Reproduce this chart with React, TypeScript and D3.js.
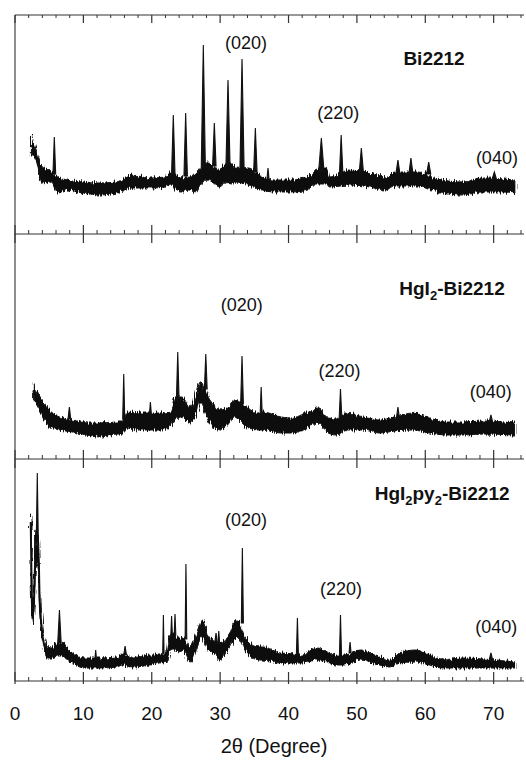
import React from 'react';
import * as d3 from 'd3';

// ---------- axis ----------
const xDomain: [number, number] = [0, 75];
const xTickValues = [0, 10, 20, 30, 40, 50, 60, 70];
const xMinorValues = [2, 4, 6, 8, 12, 14, 16, 18, 22, 24, 26, 28, 32, 34, 36, 38, 42, 44, 46, 48, 52, 54, 56, 58, 62, 64, 66, 68, 72, 74];
const xAxisTitle = '2θ (Degree)';

// ---------- data: [2θ, low, high] envelope of the noisy trace (a.u.) ----------
const bi2212Band: [number, number, number][] = [
  [2.4, 79, 99], [3.1, 74, 84], [4.0, 51, 67], [5.0, 52, 64], [5.5, 50, 62], [6.1, 42, 57],
  [7.6, 44, 54], [10, 41, 52], [12.4, 39, 51], [14.8, 41, 52], [17.2, 46, 59], [19.7, 46, 56],
  [22.1, 47, 57], [22.8, 50, 62], [23.6, 44, 58], [24.1, 42, 56], [25.5, 44, 58], [26.3, 42, 59],
  [27.0, 48, 65], [28.2, 54, 71], [30.0, 47, 64], [30.7, 52, 70], [31.7, 50, 70], [32.2, 52, 67],
  [34.2, 49, 66], [36.2, 44, 57], [37.9, 42, 54], [40.4, 42, 54], [42.8, 44, 57], [44.0, 50, 64],
  [45.5, 50, 66], [46.0, 47, 57], [49.0, 49, 64], [51.9, 47, 61], [54.3, 44, 57], [55.5, 48, 62],
  [57.0, 48, 62], [59.0, 48, 62], [62.3, 41, 54], [65.7, 39, 52], [68.1, 42, 56], [71.5, 42, 55],
  [73.1, 41, 54],
];
// [2θ, top, base, half width]
const bi2212Peaks: [number, number, number, number][] = [
  [5.75, 97, 60, 0.2], [23.15, 119, 60, 0.25], [24.96, 121, 58, 0.25], [27.54, 189, 66, 0.3],
  [29.15, 111, 68, 0.25], [31.15, 154, 68, 0.3], [33.2, 175, 66, 0.3], [35.15, 106, 62, 0.25],
  [37.0, 66, 55, 0.15], [44.8, 96, 62, 0.4], [47.7, 99, 60, 0.25], [50.65, 86, 62, 0.3],
  [56.0, 74, 60, 0.3], [57.9, 76, 60, 0.3], [60.5, 72, 60, 0.3], [70.1, 62, 55, 0.3],
];

const hgi2Band: [number, number, number][] = [
  [2.68, 60, 76], [3.6, 49, 62], [5.0, 32, 49], [6.5, 29, 42], [8.5, 27, 39], [10.5, 24, 36],
  [12.4, 22, 36], [14.9, 25, 37], [15.6, 25, 37], [16.3, 31, 47], [18.4, 29, 46], [21.3, 29, 46],
  [22.7, 32, 47], [23.4, 40, 62], [24.4, 42, 62], [25.6, 36, 52], [26.5, 45, 65], [27.1, 56, 77],
  [28.5, 36, 59], [30.0, 29, 49], [31.2, 35, 52], [32.0, 42, 59], [33.9, 32, 52], [35.3, 29, 46],
  [36.3, 29, 47], [38.9, 26, 42], [40.4, 26, 41], [42.8, 31, 47], [44.3, 36, 51], [45.8, 26, 41],
  [47.0, 24, 40], [48.5, 29, 46], [50.9, 29, 42], [53.3, 26, 39], [55.5, 28, 42], [58.2, 29, 46],
  [60.6, 26, 41], [63.1, 24, 37], [65.5, 24, 37], [68.5, 25, 38], [73.1, 24, 36],
];
const hgi2Peaks: [number, number, number, number][] = [
  [7.95, 52, 40, 0.2], [15.9, 85, 40, 0.15], [19.8, 57, 44, 0.15], [23.8, 107, 58, 0.2],
  [27.9, 105, 70, 0.2], [33.2, 103, 55, 0.2], [36.0, 72, 45, 0.15], [47.6, 70, 40, 0.2],
  [56.0, 52, 42, 0.2], [69.6, 44, 37, 0.25],
];

const hgi2py2Band: [number, number, number][] = [
  [2.3, 150, 168], [2.45, 70, 100], [2.6, 55, 70], [2.8, 75, 95], [3.05, 120, 150], [3.45, 110, 140],
  [3.6, 72, 90], [3.8, 55, 66], [4.1, 37, 46], [4.8, 23, 34], [5.6, 23, 33], [6.1, 25, 38],
  [7.0, 25, 38], [7.5, 23, 34], [8.2, 19, 29], [10.2, 13, 23], [12.4, 13, 23], [14.9, 14, 24],
  [15.7, 16, 27], [17.2, 14, 23], [19.7, 16, 26], [21.1, 18, 26], [22.2, 19, 29], [22.6, 30, 45],
  [23.2, 32, 48], [23.9, 29, 43], [24.6, 31, 43], [25.6, 19, 34], [26.6, 33, 48], [27.4, 44, 61],
  [28.3, 31, 44], [29.0, 28, 42], [30.0, 21, 38], [31.4, 34, 48], [32.4, 44, 61], [33.9, 28, 41],
  [35.8, 21, 34], [36.3, 21, 34], [38.8, 18, 28], [40.9, 18, 27], [41.9, 18, 26], [44.1, 21, 33],
  [46.0, 18, 28], [47.0, 16, 26], [48.2, 16, 26], [50.5, 21, 31], [53.3, 16, 24], [54.8, 14, 21],
  [56.1, 18, 28], [58.6, 19, 31], [60.6, 16, 26], [62.5, 13, 21], [65.5, 13, 23], [68.5, 13, 22],
  [73.1, 13, 19],
];
const hgi2py2Peaks: [number, number, number, number][] = [
  [3.26, 208, 140, 0.15], [6.5, 71, 38, 0.25], [11.8, 31, 23, 0.1], [16.1, 35, 26, 0.2],
  [21.7, 66, 27, 0.1], [22.9, 65, 45, 0.12], [23.4, 67, 46, 0.12], [25.0, 117, 42, 0.12],
  [29.4, 48, 40, 0.15], [29.8, 50, 38, 0.12], [33.25, 133, 58, 0.15], [41.3, 63, 26, 0.15],
  [47.6, 66, 26, 0.15], [49.0, 39, 28, 0.15], [69.6, 28, 21, 0.25],
];

// panel intensity ranges (a.u.)
const panelMax = [219, 225, 222];

// annotations: [text, 2θ position of label start, intensity of baseline]
const hklLabels: [string, number, number][][] = [
  [['(020)', 30.7, 185], ['(220)', 44.2, 115], ['(040)', 67.4, 70]],
  [['(020)', 30.1, 148], ['(220)', 44.4, 82], ['(040)', 66.5, 61]],
  [['(020)', 30.7, 155], ['(220)', 44.6, 86], ['(040)', 67.3, 48]],
];

const sampleNames: { parts: [string, boolean][] }[] = [
  { parts: [['Bi2212', false]] },
  { parts: [['HgI', false], ['2', true], ['-Bi2212', false]] },
  { parts: [['HgI', false], ['2', true], ['py', false], ['2', true], ['-Bi2212', false]] },
];
const sampleNamePos: [number, number][] = [[56.8, 169], [56.2, 164], [52.6, 181]];

// ---------- layout ----------
const W = 526;
const H = 763;
const left = 15;
const panelEdges = [15, 234, 459, 681];

export default function App() {
  const x = d3.scaleLinear().domain(xDomain).range([left, left + 6.838 * 75]);
  const bands = [bi2212Band, hgi2Band, hgi2py2Band];
  const peaks = [bi2212Peaks, hgi2Peaks, hgi2py2Peaks];
  const font = 'Liberation Sans, Arial, Helvetica, sans-serif';
  const lineRight = 524;

  return (
    <svg width={W} height={H} style={{ position: 'absolute', left: 0, top: 0, background: '#fff' }}>
      <defs>
        <filter id="grain" x="-2%" y="-20%" width="104%" height="140%">
          <feTurbulence type="fractalNoise" baseFrequency="0.9 0.06" numOctaves={2} seed={3} result="n" />
          <feDisplacementMap in="SourceGraphic" in2="n" scale={7} xChannelSelector="A" yChannelSelector="G" />
        </filter>
      </defs>
      <rect x={0} y={0} width={W} height={H} fill="#fff" />
      {bands.map((band, i) => {
        const y = d3.scaleLinear().domain([0, panelMax[i]]).range([panelEdges[i + 1], panelEdges[i]]);
        const area = d3
          .area<[number, number, number]>()
          .x((d) => x(d[0]))
          .y0((d) => y(d[1]))
          .y1((d) => y(d[2]))
          .curve(d3.curveMonotoneX);
        const mid = d3
          .line<[number, number, number]>()
          .x((d) => x(d[0]))
          .y((d) => y((d[1] + d[2]) / 2))
          .curve(d3.curveMonotoneX);
        return (
          <g key={'p' + i}>
            <path d={mid(band) || ''} fill="none" stroke="#111" strokeWidth={2} />
            <g filter="url(#grain)">
              <path d={area(band) || ''} fill="#111" stroke="#111" strokeWidth={1} />
            </g>
            {peaks[i].map((p, j) => {
              const d = `M${x(p[0] - p[3])},${y(p[2])} L${x(p[0])},${y(p[1])} L${x(p[0] + p[3])},${y(p[2])} Z`;
              return <path key={j} d={d} fill="#111" stroke="#111" strokeWidth={1.1} strokeLinejoin="miter" />;
            })}
            {hklLabels[i].map((l, j) => (
              <text key={'l' + j} x={x(l[1])} y={y(l[2])} fontFamily={font} fontSize={18} fill="#111">
                {l[0]}
              </text>
            ))}
            <text x={x(sampleNamePos[i][0])} y={y(sampleNamePos[i][1])} fontFamily={font} fontSize={19} fontWeight="bold" fill="#111">
              {sampleNames[i].parts.map((pt, k) =>
                pt[1] ? (
                  <tspan key={k} fontSize={13} dy={5}>{pt[0]}</tspan>
                ) : (
                  <tspan key={k} dy={k > 0 && sampleNames[i].parts[k - 1][1] ? -5 : 0}>{pt[0]}</tspan>
                )
              )}
            </text>
          </g>
        );
      })}

      {/* frame lines */}
      <line x1={left} x2={left} y1={panelEdges[0]} y2={panelEdges[3]} stroke="#444" strokeWidth={1.2} />
      {panelEdges.map((py, i) => (
        <g key={'e' + i}>
          <line x1={left} x2={lineRight} y1={py} y2={py} stroke="#333" strokeWidth={1.2} />
          {xMinorValues.map((v) => {
            const up = i === 0 ? 0 : 4;
            const down = i === 0 ? 3 : 0;
            return <line key={'m' + v} x1={x(v)} x2={x(v)} y1={py - up} y2={py + down} stroke="#333" strokeWidth={1} />;
          })}
          {xTickValues.map((v) => {
            const up = i === 0 ? 0 : 9;
            const down = i === 0 ? 8 : i === 3 ? 3 : 9;
            return <line key={'M' + v} x1={x(v)} x2={x(v)} y1={py - up} y2={py + down} stroke="#333" strokeWidth={1.2} />;
          })}
        </g>
      ))}

      {xTickValues.map((v) => (
        <text key={'t' + v} x={x(v)} y={720} textAnchor="middle" fontFamily={font} fontSize={19} fill="#111">
          {v}
        </text>
      ))}
      <text x={274} y={753} textAnchor="middle" fontFamily={font} fontSize={20} fill="#111">
        {xAxisTitle}
      </text>
    </svg>
  );
}
